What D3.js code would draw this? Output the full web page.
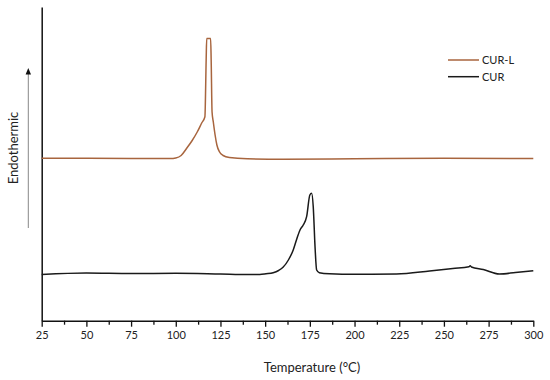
<!DOCTYPE html>
<html>
<head>
<meta charset="utf-8">
<script src="https://cdn.jsdelivr.net/npm/d3@7"></script>
<style>
  html, body { margin: 0; padding: 0; background: #fff; }
  svg { display: block; font-family: Lato, "Open Sans", sans-serif; }
</style>
</head>
<body>
<svg id="chart" width="550" height="380"></svg>
<script>
// Temperature (°C) values and heat flow (arbitrary units)
const curLTemp = [25, 50, 75, 90, 97, 100, 103, 106, 109, 112, 114.5, 116.3, 117.0, 117.3, 119.5, 119.8, 120.3, 121, 122, 123, 124.5, 126.5, 130, 140, 160, 200, 250, 300];
const curLFlow = [162.4, 162.4, 162.3, 162.1, 162.1, 162.7, 165.2, 172.2, 179.7, 188.7, 197.7, 204, 260.7, 282.2, 282.2, 260.7, 208.7, 198.7, 185.7, 175.7, 168.7, 165.2, 163.2, 161.9, 161.5, 161.9, 162.4, 162.2];

const curTemp = [25, 50, 75, 100, 125, 140, 147, 150.5, 154.5, 157.5, 160, 163, 165.7, 167.5, 169.5, 171.3, 173.2, 175, 176, 176.9, 177.9, 178.8, 180.3, 186, 200, 223.5, 242, 255, 264, 264.7, 265.4, 272, 281, 290, 300];
const curFlow = [46.2, 47.7, 47.2, 47.4, 46.7, 46.2, 46.2, 46.9, 48, 50.2, 53.4, 60.7, 70.7, 80.7, 90.7, 95.7, 104, 125.7, 127.4, 114, 74, 50.7, 48, 46.9, 46.4, 46.7, 49.7, 52.2, 53.9, 54.9, 53.7, 51.2, 46.7, 48.2, 50];

const seriesNames = ["CUR-L", "CUR"];
const seriesColors = ["#a8653e", "#1a1a1a"];
const xTicks = [25, 50, 75, 100, 125, 150, 175, 200, 225, 250, 275, 300];
const xMinorTicks = [37.5, 62.5, 87.5, 112.5, 137.5, 162.5, 187.5, 212.5, 237.5, 262.5, 287.5];
const xTitle = "Temperature (°C)";
const yTitle = "Endothermic";

(function () {
const svg = d3.select("#chart");
const mLeft = 41.7, mRight = 533.3, mTop = 7, mBottom = 320.7;

const x = d3.scaleLinear().domain([25, 300]).range([mLeft, mRight]);
const y = d3.scaleLinear().domain([0, 313.7]).range([mBottom, mTop]);

// minor ticks
svg.append("g")
  .attr("transform", `translate(0,${mBottom})`)
  .call(d3.axisBottom(x).tickValues(xMinorTicks).tickSize(4).tickFormat(""))
  .call(g => g.select(".domain").remove())
  .call(g => g.selectAll("line").attr("stroke", "#111").attr("stroke-width", 1.3));

// major axis
const xAxis = svg.append("g")
  .attr("transform", `translate(0,${mBottom})`)
  .call(d3.axisBottom(x).tickValues(xTicks).tickSize(6).tickPadding(5).tickSizeOuter(0));
xAxis.select(".domain").attr("stroke", "#111").attr("stroke-width", 1.5);
xAxis.selectAll(".tick line").attr("stroke", "#111").attr("stroke-width", 1.3);
xAxis.selectAll(".tick text").attr("font-size", 11).attr("fill", "#222")
  .attr("font-family", "Lato, 'Open Sans', sans-serif");

// y axis line (no ticks)
const yAxis = svg.append("g")
  .attr("transform", `translate(${mLeft},0)`)
  .call(d3.axisLeft(y).tickValues([]).tickSizeOuter(0));
yAxis.select(".domain").attr("stroke", "#111").attr("stroke-width", 1.5);

// titles
svg.append("text")
  .attr("x", 312).attr("y", 372)
  .attr("text-anchor", "middle")
  .attr("font-size", 13).attr("fill", "#222")
  .text(xTitle);

svg.append("text")
  .attr("transform", "translate(17.5,148) rotate(-90)")
  .attr("text-anchor", "middle")
  .attr("font-size", 13).attr("fill", "#222")
  .text(yTitle);

// arrow
svg.append("line")
  .attr("x1", 28.3).attr("x2", 28.3).attr("y1", 228).attr("y2", 73)
  .attr("stroke", "#888").attr("stroke-width", 1);
svg.append("path")
  .attr("d", "M28.3,68 L25.6,74.5 L31,74.5 Z")
  .attr("fill", "#111");

// lines
const data = [
  curLTemp.map((t, i) => [t, curLFlow[i]]),
  curTemp.map((t, i) => [t, curFlow[i]])
];
const line = d3.line().x(d => x(d[0])).y(d => y(d[1])).curve(d3.curveMonotoneX);
data.forEach((d, i) => {
  svg.append("path")
    .datum(d)
    .attr("fill", "none")
    .attr("stroke", seriesColors[i])
    .attr("stroke-width", 1.5)
    .attr("stroke-linejoin", "round")
    .attr("d", line);
});

// legend
const legend = svg.append("g");
seriesNames.forEach((name, i) => {
  const ly = 60 + i * 16.7;
  legend.append("line")
    .attr("x1", 448).attr("x2", 479).attr("y1", ly).attr("y2", ly)
    .attr("stroke", seriesColors[i]).attr("stroke-width", 1.5);
  legend.append("text")
    .attr("x", 482).attr("y", ly).attr("dy", "0.35em")
    .attr("font-size", 11).attr("fill", "#222")
    .text(name);
});
})();
</script>
</body>
</html>
